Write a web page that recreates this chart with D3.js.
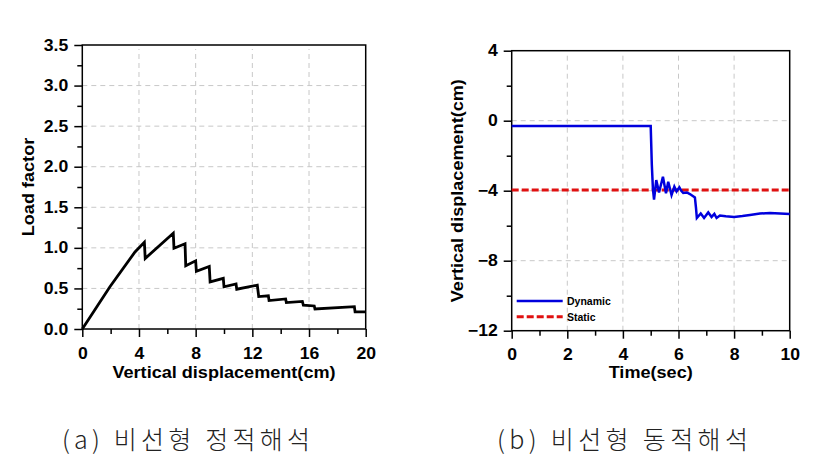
<!DOCTYPE html>
<html><head><meta charset="utf-8">
<script src="https://cdn.jsdelivr.net/npm/d3@7"></script>
<style>body{margin:0;background:#fff}svg{display:block}</style>
</head><body>
<svg id="c" width="817" height="458"></svg>
<script>
// ---- data: (a) nonlinear static analysis ----
const staticDisp = [0, 1.95, 3.72, 4.38, 4.44, 6.42, 6.47, 7.25, 7.3, 8.0, 8.05, 8.96, 9.02, 9.95, 10.0, 10.85, 10.9, 12.35, 12.45, 13.13, 13.18, 14.35, 14.4, 15.53, 15.6, 16.37, 16.42, 19.2, 19.25, 20.0];
const loadFactor = [0, 0.52, 0.95, 1.07, 0.87, 1.18, 0.995, 1.05, 0.78, 0.84, 0.71, 0.77, 0.58, 0.625, 0.52, 0.555, 0.49, 0.54, 0.40, 0.41, 0.35, 0.37, 0.325, 0.34, 0.295, 0.284, 0.247, 0.275, 0.21, 0.21];
const xTicksA = [0, 4, 8, 12, 16, 20];
const yTicksA = [0.0, 0.5, 1.0, 1.5, 2.0, 2.5, 3.0, 3.5];

// ---- data: (b) nonlinear dynamic analysis ----
const time = [0, 5.0, 5.04, 5.08, 5.12, 5.2, 5.3, 5.44, 5.55, 5.63, 5.75, 5.85, 5.93, 6.03, 6.1, 6.17, 6.3, 6.41, 6.59, 6.63, 6.66, 6.8, 6.92, 7.07, 7.19, 7.29, 7.37, 7.49, 7.7, 8.0, 8.3, 8.57, 8.93, 9.29, 9.65, 10];
const dynamicDisp = [-0.3, -0.3, -2.5, -3.9, -4.51, -3.39, -4.1, -3.2, -4.15, -3.49, -4.25, -3.77, -4.04, -3.81, -4.0, -4.13, -4.1, -4.19, -4.38, -5.0, -5.56, -5.3, -5.56, -5.24, -5.5, -5.33, -5.56, -5.42, -5.46, -5.5, -5.45, -5.39, -5.3, -5.28, -5.3, -5.33];
const staticTime = [0, 10];
const staticDispB = [-3.96, -3.96];
const xTicksB = [0, 2, 4, 6, 8, 10];
const yTicksB = [4, 0, -4, -8, -12];
const seriesNames = ["Dynamic", "Static"];
const captions = ["(a) 비선형 정적해석", "(b) 비선형 동적해석"];

const svg = d3.select("#c");
const FONT = "'Liberation Sans', Arial, sans-serif";
const STRETCH = 1.13;

function stretch(sel, f) {
  sel.each(function () {
    const w = this.getComputedTextLength();
    if (w > 0) d3.select(this).attr("textLength", w * f).attr("lengthAdjust", "spacingAndGlyphs");
  });
}

function panel(o) {
  const g = svg.append("g");
  const x = d3.scaleLinear().domain(o.xd).range([o.x0, o.x1]);
  const y = d3.scaleLinear().domain(o.yd).range([o.y0, o.y1]);
  // grid
  g.append("g").selectAll("line").data(o.xgrid).join("line")
    .attr("x1", d => x(d)).attr("x2", d => x(d)).attr("y1", o.y0).attr("y2", o.y1 + 4)
    .attr("stroke", "#c8c8c8").attr("stroke-width", 1).attr("stroke-dasharray", "5,4");
  g.append("g").selectAll("line").data(o.ygrid).join("line")
    .attr("x1", o.x0).attr("x2", o.x1).attr("y1", d => y(d)).attr("y2", d => y(d))
    .attr("stroke", "#c8c8c8").attr("stroke-width", 1).attr("stroke-dasharray", "5,4");
  // axes
  const xa = d3.axisBottom(x).tickValues(o.xticks).tickFormat(o.xfmt).tickSize(8).tickPadding(o.xpad);
  const xm = d3.axisBottom(x).tickValues(o.xminor).tickFormat("").tickSize(5);
  const ya = d3.axisLeft(y).tickValues(o.yticks).tickFormat(o.yfmt).tickSize(8).tickPadding(6);
  const ym = d3.axisLeft(y).tickValues(o.yminor).tickFormat("").tickSize(5);
  [ [xa, `translate(0,${o.y0})`], [xm, `translate(0,${o.y0})`], [ya, `translate(${o.x0},0)`], [ym, `translate(${o.x0},0)`] ]
    .forEach(([ax, tr]) => {
      const a = g.append("g").attr("transform", tr).call(ax);
      a.select(".domain").remove();
      a.selectAll("line").attr("stroke", "#000").attr("stroke-width", 1.5);
      const t = a.selectAll("text").attr("font-family", FONT).attr("font-weight", "bold").attr("font-size", 16).attr("fill", "#000");
      stretch(t, 1.1);
    });
  // frame
  g.append("rect").attr("x", o.x0).attr("y", o.y1).attr("width", o.x1 - o.x0).attr("height", o.y0 - o.y1)
    .attr("fill", "none").attr("stroke", "#000").attr("stroke-width", 1.5);
  // titles
  const xt = g.append("text").attr("x", (o.x0 + o.x1) / 2).attr("y", o.xtY).attr("text-anchor", "middle")
    .attr("font-family", FONT).attr("font-weight", "bold").attr("font-size", 16).text(o.xt);
  const yt = g.append("text").attr("transform", `translate(${o.ytX},${(o.y0 + o.y1) / 2}) rotate(-90)`).attr("text-anchor", "middle")
    .attr("font-family", FONT).attr("font-weight", "bold").attr("font-size", 16).text(o.yt);
  stretch(xt, STRETCH); stretch(yt, STRETCH);
  return {g, x, y};
}

// (a)
const A = panel({xd: [0, 20], yd: [0, 3.5], x0: 82.3, x1: 365.7, y0: 329, y1: 45,
  xgrid: [4, 8, 12, 16], ygrid: [0.5, 1, 1.5, 2, 2.5, 3],
  xticks: xTicksA, xminor: [2, 6, 10, 14, 18], yticks: yTicksA, yminor: [0.25, 0.75, 1.25, 1.75, 2.25, 2.75, 3.25],
  xfmt: d3.format("d"), yfmt: d3.format(".1f"), xpad: 11, xt: "Vertical displacement(cm)", xtY: 378, yt: "Load factor", ytX: 33.5});
A.g.append("path").datum(staticDisp.map((d, i) => [d, loadFactor[i]]))
  .attr("d", d3.line().x(d => A.x(d[0])).y(d => A.y(d[1])))
  .attr("fill", "none").attr("stroke", "#000").attr("stroke-width", 2.8).attr("stroke-linejoin", "miter");

// (b)
const B = panel({xd: [0, 10], yd: [-12, 4], x0: 511.7, x1: 789.7, y0: 330.7, y1: 50.7,
  xgrid: [2, 4, 6, 8], ygrid: [0, -4, -8],
  xticks: xTicksB, xminor: [1, 3, 5, 7, 9], yticks: yTicksB, yminor: [2, -2, -6, -10],
  xfmt: d3.format("d"), yfmt: d3.format("d"), xpad: 9.5, xt: "Time(sec)", xtY: 378, yt: "Vertical displacement(cm)", ytX: 462.5});
B.g.append("path").datum(staticTime.map((d, i) => [d, staticDispB[i]]))
  .attr("d", d3.line().x(d => B.x(d[0])).y(d => B.y(d[1])))
  .attr("fill", "none").attr("stroke", "#e01010").attr("stroke-width", 3).attr("stroke-dasharray", "7,3");
B.g.append("path").datum(time.map((d, i) => [d, dynamicDisp[i]]))
  .attr("d", d3.line().x(d => B.x(d[0])).y(d => B.y(d[1])))
  .attr("fill", "none").attr("stroke", "#0000dd").attr("stroke-width", 2.5);

// legend
const leg = B.g.append("g");
const legStyles = [{c: "#0000dd", dash: null}, {c: "#e01010", dash: "7,3"}];
seriesNames.forEach((n, i) => {
  const yy = 301 + i * 15.7;
  leg.append("line").attr("x1", 516.7).attr("x2", 562.7).attr("y1", yy).attr("y2", yy)
    .attr("stroke", legStyles[i].c).attr("stroke-width", i ? 3 : 2.5).attr("stroke-dasharray", legStyles[i].dash);
  leg.append("text").attr("x", 567).attr("y", yy + 4).attr("font-family", FONT).attr("font-weight", "bold")
    .attr("font-size", 10.5).text(n);
});

// captions
[[62, 248], [497, 251]].forEach(([cx, w], i) => {
  svg.append("text").attr("x", cx).attr("y", 449).attr("font-family", "'Noto Sans CJK KR', sans-serif")
    .attr("font-weight", 300).attr("font-size", 25).attr("textLength", w).attr("lengthAdjust", "spacing")
    .attr("fill", "#222").text(captions[i]);
});
</script>
</body></html>
